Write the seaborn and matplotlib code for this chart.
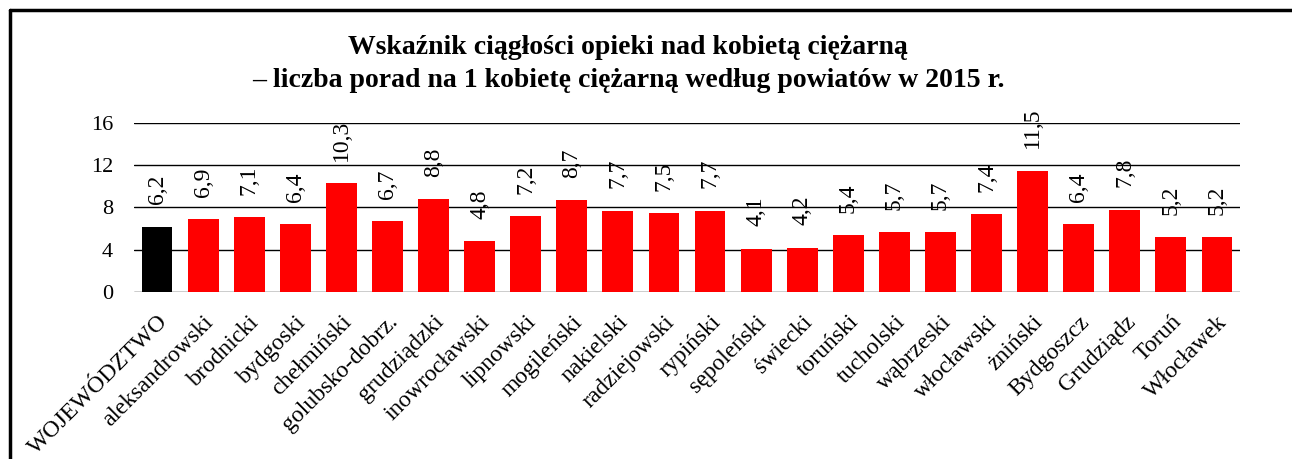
import matplotlib
matplotlib.use("Agg")
import matplotlib.pyplot as plt
import seaborn as sns
from matplotlib.lines import Line2D

powiaty = ["WOJEWÓDZTWO", "aleksandrowski", "brodnicki", "bydgoski", "chełmiński",
           "golubsko-dobrz.", "grudziądzki", "inowrocławski", "lipnowski", "mogileński",
           "nakielski", "radziejowski", "rypiński", "sępoleński", "świecki", "toruński",
           "tucholski", "wąbrzeski", "włocławski", "żniński", "Bydgoszcz", "Grudziądz",
           "Toruń", "Włocławek"]
porady = [6.2, 6.9, 7.1, 6.4, 10.3, 6.7, 8.8, 4.8, 7.2, 8.7, 7.7, 7.5, 7.7,
          4.1, 4.2, 5.4, 5.7, 5.7, 7.4, 11.5, 6.4, 7.8, 5.2, 5.2]
yticks = [0, 4, 8, 12, 16]

sns.set_style("white")
plt.rcParams["font.family"] = ["Liberation Serif", "DejaVu Serif"]
plt.rcParams["text.color"] = "black"
plt.rcParams["xtick.color"] = "black"
plt.rcParams["ytick.color"] = "black"

colors = ["black"] + ["#ff0000"] * (len(powiaty) - 1)

fig = plt.figure(figsize=(12.92, 4.59), dpi=100)
ax = fig.add_axes([134 / 1292, 1 - 292 / 459, (1240 - 134) / 1292, (292 - 123) / 459])

sns.barplot(x=powiaty, y=porady, hue=powiaty, palette=colors, legend=False,
            width=0.67, saturation=1, ax=ax, linewidth=0, zorder=3)

ax.set_ylim(0, 16)
ax.set_yticks(yticks)
ax.yaxis.grid(True, color="black", linewidth=1)
ax.set_axisbelow(True)
for s in ax.spines.values():
    s.set_visible(False)
ax.tick_params(axis="y", length=0, labelsize=16, pad=15)
ax.tick_params(axis="x", length=0, labelsize=17, pad=14)
plt.setp(ax.get_xticklabels(), rotation=45, ha="right", rotation_mode="anchor")

for i, v in enumerate(porady):
    ax.annotate(str(v).replace(".", ","), (i, v), xytext=(0, 16), textcoords="offset points",
                rotation=90, ha="center", va="bottom", fontsize=17)

fig.text(628 / 1292, 1 - 64 / 459,
         "Wskaźnik ciągłości opieki nad kobietą ciężarną\n– liczba porad na 1 kobietę ciężarną według powiatów w 2015 r.",
         ha="center", va="center", fontsize=20, fontweight="bold", linespacing=1.45)

# ramka
fig.add_artist(Line2D([10 / 1292, 10 / 1292], [0, 1 - 10 / 459], color="black", lw=2.5))
fig.add_artist(Line2D([10 / 1292, 1], [1 - 10 / 459, 1 - 10 / 459], color="black", lw=2.5))

fig.savefig("out.png", dpi=100)
